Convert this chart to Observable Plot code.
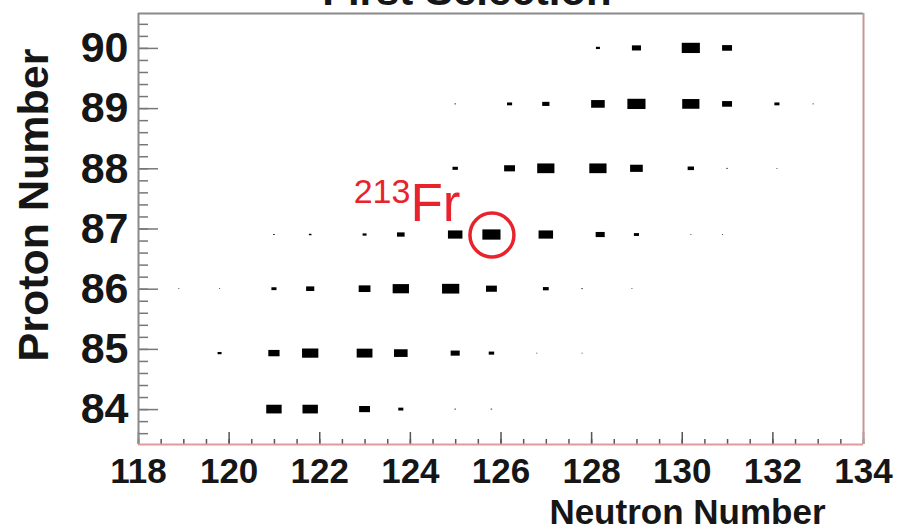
<!DOCTYPE html>
<html>
<head>
<meta charset="utf-8">
<script src="https://cdn.jsdelivr.net/npm/d3@7"></script>
<script src="https://cdn.jsdelivr.net/npm/@observablehq/plot@0.6"></script>
<style>
  html, body { margin: 0; padding: 0; background: #fff; }
  #chart svg { display: block; }
</style>
</head>
<body>
<div id="chart"></div>
<script>
// ---- text ----
const titleText = "First Selection";
const xLabel = "Neutron Number";
const yLabel = "Proton Number";

// ---- axes ----
const xDomain = [118, 134];
const yDomain = [83.42, 90.58];
const xTickLabels = [118, 120, 122, 124, 126, 128, 130, 132, 134];
const yTickLabels = [84, 85, 86, 87, 88, 89, 90];

// ---- histogram cells (neutron number, proton number, relative content) ----
const cellN = [
  121.0, 121.8, 123.0, 123.8, 125.0, 125.8,
  119.8, 121.0, 121.8, 123.0, 123.8, 125.0, 125.8, 126.8, 127.8,
  118.9, 119.8, 121.0, 121.8, 123.0, 123.8, 124.9, 125.8, 127.0, 127.8, 128.9,
  121.0, 121.8, 123.0, 123.8, 125.0, 125.8, 127.0, 128.2, 129.0, 130.2, 130.9,
  125.0, 126.2, 127.0, 128.15, 129.0, 130.2, 131.0, 132.1,
  125.0, 126.2, 127.0, 128.15, 129.0, 130.2, 131.0, 132.1, 132.9,
  128.15, 129.0, 130.2, 131.0
];
const cellZ = [
  84, 84, 84, 84, 84, 84,
  84.93, 84.93, 84.93, 84.93, 84.93, 84.93, 84.93, 84.93, 84.93,
  86, 86, 86, 86, 86, 86, 86, 86, 86, 86, 86,
  86.9, 86.9, 86.9, 86.9, 86.9, 86.9, 86.9, 86.9, 86.9, 86.9, 86.9,
  88, 88, 88, 88, 88, 88, 88, 88,
  89.07, 89.07, 89.07, 89.07, 89.07, 89.07, 89.07, 89.07, 89.07,
  90, 90, 90, 90
];
const cellCount = [
  0.85, 0.85, 0.6, 0.28, 0.08, 0.08,
  0.22, 0.62, 0.9, 0.87, 0.75, 0.5, 0.3, 0.06, 0.06,
  0.06, 0.06, 0.28, 0.45, 0.65, 0.9, 0.95, 0.6, 0.32, 0.08, 0.06,
  0.09, 0.14, 0.22, 0.42, 0.8, 1.0, 0.8, 0.5, 0.28, 0.06, 0.06,
  0.3, 0.6, 0.95, 0.95, 0.7, 0.35, 0.08, 0.06,
  0.08, 0.28, 0.4, 0.75, 1.0, 0.95, 0.55, 0.28, 0.07,
  0.22, 0.5, 1.0, 0.55
];

// ---- highlighted nucleus ----
const markN = [125.8];
const markZ = [86.9];
const markMass = ["213"];
const markSymbol = ["Fr"];
const markLabelN = [124.0];
const markLabelZ = [87.14];

// ---- build tables ----
const cells = cellN.map((n, i) => ({n, z: cellZ[i], c: cellCount[i]}));
const marks = markN.map((n, i) => ({n, z: markZ[i], mass: markMass[i], sym: markSymbol[i], ln: markLabelN[i], lz: markLabelZ[i]}));

const W = 898, H = 531;
const mL = 138, mR = 35, mT = 13, mB = 87;
const innerW = W - mL - mR, innerH = H - mT - mB;

const boxHalfW = 0.2;   // max half width in x units
const boxHalfH = 0.085; // max half height in y units

const xMinor = d3.range(xDomain[0], xDomain[1] + 0.001, 0.5);
const yMinor = d3.range(84 - 0.4, xDomain[1], 0.2).filter(v => v >= yDomain[0] && v <= yDomain[1]);

const font = "'Liberation Sans', Arial, Helvetica, sans-serif";
const ink = "#161616";
const red = "#e8232b";

const plot = Plot.plot({
  width: W, height: H,
  marginLeft: mL, marginRight: mR, marginTop: mT, marginBottom: mB,
  x: {domain: xDomain, axis: null},
  y: {domain: yDomain, axis: null},
  style: {fontFamily: font, background: "#fff"},
  marks: [
    // minor & major ticks (inward, ROOT style)
    Plot.tickX(xMinor, {x: d => d, stroke: "#555", strokeWidth: 1.5, insetTop: innerH - 5}),
    Plot.tickX(xTickLabels, {x: d => d, stroke: "#555", strokeWidth: 1.5, insetTop: innerH - 12}),
    Plot.tickY(yMinor, {y: d => d, stroke: "#777", strokeWidth: 1.5, insetRight: innerW - 10}),
    Plot.tickY(yTickLabels, {y: d => d, stroke: "#777", strokeWidth: 1.5, insetRight: innerW - 20}),
    // frame
    Plot.ruleX([xDomain[0]], {stroke: "#8a8a8a", strokeWidth: 2}),
    Plot.ruleY([yDomain[1]], {stroke: "#8a8a8a", strokeWidth: 2}),
    Plot.ruleX([xDomain[1]], {stroke: "#c99597", strokeWidth: 2}),
    Plot.ruleY([yDomain[0]], {stroke: "#e09a9c", strokeWidth: 2}),
    // boxes
    Plot.rect(cells, {
      x1: d => d.n - boxHalfW * d.c, x2: d => d.n + boxHalfW * d.c,
      y1: d => d.z - boxHalfH * d.c, y2: d => d.z + boxHalfH * d.c,
      fill: "#000"
    }),
    // highlight circle
    Plot.dot(marks, {x: "n", y: "z", r: 22, stroke: red, strokeWidth: 3.5, fill: "none"}),
    Plot.text(marks, {x: "ln", y: "lz", text: "sym", fill: red, fontSize: 53, textAnchor: "start", lineAnchor: "bottom"}),
    Plot.text(marks, {x: "ln", y: "lz", text: "mass", fill: red, fontSize: 34, textAnchor: "end", lineAnchor: "bottom", dy: -18}),
    // tick labels
    Plot.text(xTickLabels, {x: d => d, frameAnchor: "bottom", text: d => String(d), lineAnchor: "bottom", dy: 38, fontSize: 35, fontWeight: "bold", fill: ink}),
    Plot.text(yTickLabels, {y: d => d, frameAnchor: "left", text: d => String(d), textAnchor: "end", dx: -10, fontSize: 43, fontWeight: "bold", fill: ink}),
    // axis titles
    Plot.text([xLabel], {frameAnchor: "bottom-right", text: d => d, textAnchor: "end", lineAnchor: "bottom", dx: -38, dy: 79, fontSize: 35, fontWeight: "bold", fill: ink}),
    Plot.text([yLabel], {frameAnchor: "top-left", text: d => d, rotate: -90, textAnchor: "end", lineAnchor: "bottom", dx: -91, dy: 35, fontSize: 43, fontWeight: "bold", fill: ink}),
    // title (partly cut off at the top, as in the original)
    Plot.text([titleText], {frameAnchor: "top", text: d => d, lineAnchor: "bottom", dx: -34, dy: -9, fontSize: 42, fontWeight: "bold", fill: ink})
  ]
});
document.getElementById("chart").appendChild(plot);
</script>
</body>
</html>
